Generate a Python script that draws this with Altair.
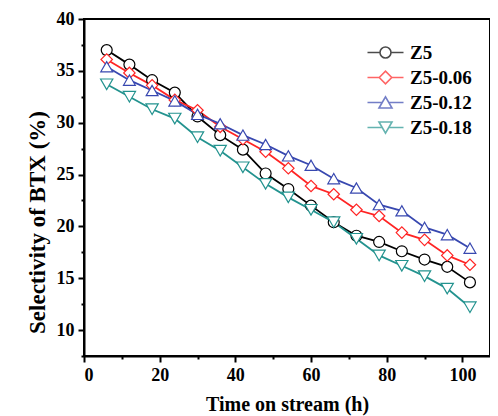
import altair as alt
import pandas as pd

time_h = [6, 12, 18, 24, 30, 36, 42, 48, 54, 60, 66, 72, 78, 84, 90, 96, 102]
z5 = [37.0, 35.6, 34.1, 32.9, 30.6, 28.8, 27.4, 25.1, 23.6, 22.0, 20.4, 19.1, 18.5, 17.6, 16.8, 16.1, 14.6]
z5_006 = [36.1, 34.8, 33.6, 32.2, 31.2, 29.6, 28.4, 27.2, 25.6, 23.9, 23.1, 21.6, 21.0, 19.4, 18.7, 17.2, 16.3]
z5_012 = [35.4, 34.1, 33.1, 32.1, 30.8, 29.9, 28.8, 27.9, 26.8, 25.9, 24.6, 23.7, 22.1, 21.5, 19.9, 19.2, 17.9]
z5_018 = [33.7, 32.5, 31.3, 30.4, 28.6, 27.3, 25.7, 24.1, 22.8, 21.6, 20.4, 18.8, 17.2, 16.2, 15.2, 14.0, 12.2]

series_names = ["Z5", "Z5-0.06", "Z5-0.12", "Z5-0.18"]
series_values = [z5, z5_006, z5_012, z5_018]
colors = ["#000000", "#FF2424", "#3848B0", "#23938F"]
shapes = ["circle", "diamond", "triangle-up", "triangle-down"]
sizes = [120, 150, 150, 150]
legend_shapes = [
    "M-3.6,0L-1.1,0M1.1,0L3.6,0M-1.1,0A1.1,1.1,0,1,0,1.1,0A1.1,1.1,0,1,0,-1.1,0Z",
    "M-3.6,0L-1.25,0M1.25,0L3.6,0M-1.25,0L0,-1.25L1.25,0L0,1.25Z",
    "M-3.6,0L-0.65,0M0.65,0L3.6,0M-1.3,1.1L0,-1.15L1.3,1.1Z",
    "M-3.6,0L-0.65,0M0.65,0L3.6,0M-1.3,-1.1L0,1.15L1.3,-1.1Z",
]

rows = []
for name, vals in zip(series_names, series_values):
    for t, v in zip(time_h, vals):
        rows.append({"time": t, "sel": v, "series": name})
df = pd.DataFrame(rows)

FONT = "Liberation Serif"

x_enc = alt.X(
    "time:Q",
    scale=alt.Scale(domain=[0, 107.3], nice=False, zero=False),
    axis=alt.Axis(
        title="Time on stream (h)",
        values=list(range(0, 101, 10)),
        labelExpr="datum.value % 20 == 0 ? datum.label : ''",
        tickSize={"condition": {"test": "datum.value % 20 == 0", "value": 6}, "value": 3},
        tickWidth=2,
        tickColor="black",
        domainColor="black",
        domainWidth=2,
        labelFont=FONT,
        labelFontWeight="bold",
        labelFontSize=18,
        labelColor="black",
        labelPadding=4,
        titleFont=FONT,
        titleFontWeight="bold",
        titleFontSize=20,
        titleColor="black",
        titlePadding=10,
        grid=False,
    ),
)
y_enc = alt.Y(
    "sel:Q",
    scale=alt.Scale(domain=[7.5, 40], nice=False, zero=False),
    axis=alt.Axis(
        title="Selectivity of BTX (%)",
        values=[7.5 + 2.5 * i for i in range(14)],
        labelExpr="datum.value % 5 == 0 ? datum.label : ''",
        tickSize={"condition": {"test": "datum.value % 5 == 0", "value": 6}, "value": 3},
        tickWidth=2,
        tickColor="black",
        domainColor="black",
        domainWidth=2,
        labelFont=FONT,
        labelFontWeight="bold",
        labelFontSize=18,
        labelColor="black",
        labelPadding=4,
        titleFont=FONT,
        titleFontWeight="bold",
        titleFontSize=23,
        titleColor="black",
        titlePadding=7,
        titleY=203,
        grid=False,
    ),
)

base = alt.Chart(df)

lines = base.mark_line(strokeWidth=1.8).encode(
    x=x_enc,
    y=y_enc,
    color=alt.Color("series:N", scale=alt.Scale(domain=series_names, range=colors), legend=None),
    detail="series:N",
)

points = base.mark_point(filled=True, fill="white", strokeWidth=1.2, opacity=1).encode(
    x=x_enc,
    y=y_enc,
    stroke=alt.Stroke("series:N", scale=alt.Scale(domain=series_names, range=colors), legend=None),
    shape=alt.Shape("series:N", scale=alt.Scale(domain=series_names, range=shapes), legend=None),
    size=alt.Size("series:N", scale=alt.Scale(domain=series_names, range=sizes), legend=None),
)

legend_layer = base.transform_filter("false").mark_point(filled=False, strokeWidth=1.6).encode(
    x=x_enc,
    y=y_enc,
    stroke=alt.Stroke(
        "series:N",
        scale=alt.Scale(domain=series_names, range=colors),
        legend=alt.Legend(
            title=None,
            orient="none",
            legendX=292,
            legendY=24,
            symbolSize=100,
            symbolStrokeWidth=1.6,
            labelFont=FONT,
            labelFontWeight="bold",
            labelFontSize=19,
            labelColor="black",
            labelOffset=15,
            rowPadding=5,
        ),
    ),
    shape=alt.Shape(
        "series:N",
        scale=alt.Scale(domain=series_names, range=legend_shapes),
        legend=alt.Legend(title=None, orient="none", legendX=292, legendY=24),
    ),
)

chart = (
    alt.layer(lines, points, legend_layer)
    .resolve_scale(color="independent", stroke="independent", shape="independent", size="independent")
    .properties(
        width=406,
        height=337,
        autosize=alt.AutoSizeParams(type="none"),
        padding={"left": 76, "top": 11, "right": 0, "bottom": 60},
        background="white",
    )
    .configure_view(stroke="black", strokeWidth=2)
)

chart.save("out.html", embed_options={"renderer": "svg", "actions": False})
